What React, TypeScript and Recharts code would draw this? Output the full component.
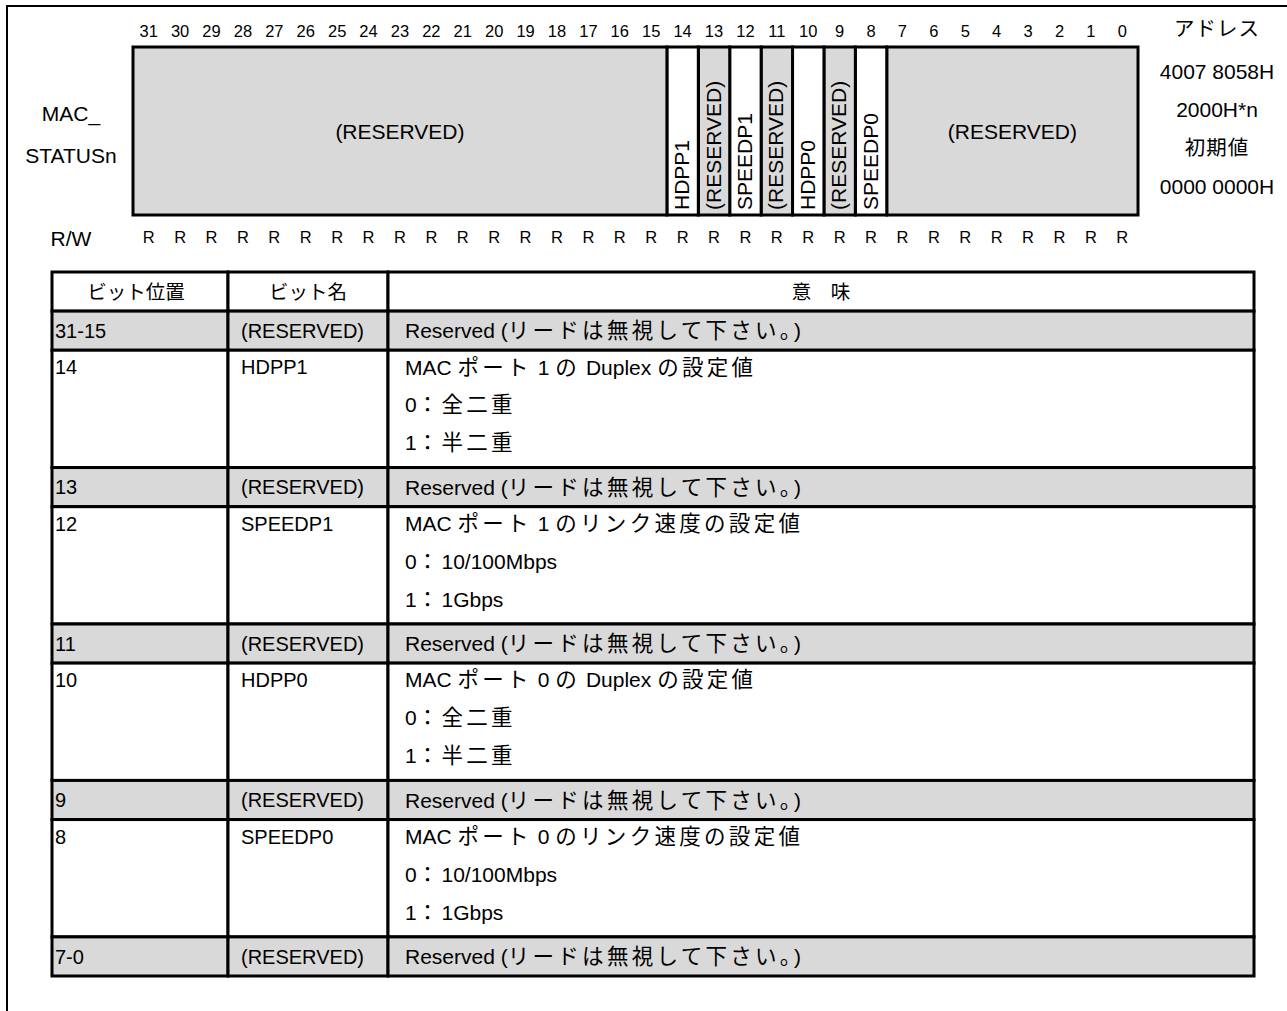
import React from "react";
import {
  BarChart,
  Bar,
  XAxis,
  YAxis,
  Label,
  ComposedChart,
  ReferenceArea,
} from "recharts";

// register fields, from bit 0 upward (this is also the stack order)
const fieldNames = [
  "(RESERVED)",
  "SPEEDP0",
  "(RESERVED)",
  "HDPP0",
  "(RESERVED)",
  "SPEEDP1",
  "(RESERVED)",
  "HDPP1",
  "(RESERVED)",
];
const fieldBits = [8, 1, 1, 1, 1, 1, 1, 1, 17];
const fieldReserved = [true, false, true, false, true, false, true, false, true];

// bit numbers and access type, left to right as printed
const bitLabels = [
  31, 30, 29, 28, 27, 26, 25, 24, 23, 22, 21, 20, 19, 18, 17, 16,
  15, 14, 13, 12, 11, 10, 9, 8, 7, 6, 5, 4, 3, 2, 1, 0,
];
const accessTypes = [
  "R", "R", "R", "R", "R", "R", "R", "R", "R", "R", "R", "R", "R", "R", "R", "R",
  "R", "R", "R", "R", "R", "R", "R", "R", "R", "R", "R", "R", "R", "R", "R", "R",
];

const registerName = ["MAC_", "STATUSn"];
const addressInfo = ["アドレス", "4007 8058H", "2000H*n", "初期値", "0000 0000H"];

// description table
const tableHeaders = ["ビット位置", "ビット名", "意　味"];
const bitPositions = ["31-15", "14", "13", "12", "11", "10", "9", "8", "7-0"];
const bitNames = [
  "(RESERVED)",
  "HDPP1",
  "(RESERVED)",
  "SPEEDP1",
  "(RESERVED)",
  "HDPP0",
  "(RESERVED)",
  "SPEEDP0",
  "(RESERVED)",
];
const meanings = [
  ["Reserved (リードは無視して下さい。)"],
  ["MAC ポート 1 の Duplex の設定値", "0：全二重", "1：半二重"],
  ["Reserved (リードは無視して下さい。)"],
  ["MAC ポート 1 のリンク速度の設定値", "0：10/100Mbps", "1：1Gbps"],
  ["Reserved (リードは無視して下さい。)"],
  ["MAC ポート 0 の Duplex の設定値", "0：全二重", "1：半二重"],
  ["Reserved (リードは無視して下さい。)"],
  ["MAC ポート 0 のリンク速度の設定値", "0：10/100Mbps", "1：1Gbps"],
  ["Reserved (リードは無視して下さい。)"],
];

const LATIN = "'Liberation Sans', Arial, sans-serif";
const CJK = "'Noto Sans CJK JP', sans-serif";
const GREY = "#d9d9d9";

const cjkRe = /([\u3000-\u30ff\u4e00-\u9fff\uff00-\uffef]+)/;

// latin and japanese runs: japanese is spaced out a little, like the original
function mixed(text: string, latin: number, cjk: number, spacing: number) {
  return text
    .split(cjkRe)
    .filter((s) => s.length > 0)
    .map((s, i) =>
      cjkRe.test(s) ? (
        <tspan key={i} fontFamily={CJK} fontSize={cjk} letterSpacing={spacing}>
          {s}
        </tspan>
      ) : (
        <tspan key={i} fontFamily={LATIN} fontSize={latin} letterSpacing={0}>
          {s}
        </tspan>
      )
    );
}

const registerData = [
  fieldBits.reduce(
    (row: Record<string, any>, bits, i) => {
      row["f" + i] = bits;
      row.span += bits;
      return row;
    },
    { name: registerName.join(""), span: 0 }
  ),
];

function FieldShape(props: any) {
  const { x, y, width, height, field } = props;
  const left = Math.min(x, x + width);
  const w = Math.abs(width);
  const top = Math.min(y, y + height);
  const h = Math.abs(height);
  const cx = left + w / 2;
  const label = fieldNames[field];
  const bx = cx + 6.5;
  const by = top + h - 5;
  return (
    <g>
      <rect
        x={left}
        y={top}
        width={w}
        height={h}
        fill={fieldReserved[field] ? GREY : "#fff"}
        stroke="#000"
        strokeWidth={3}
      />
      {fieldBits[field] === 1 ? (
        <text
          x={bx}
          y={by}
          transform={`rotate(-90 ${bx} ${by})`}
          fontFamily={LATIN}
          fontSize={21}
          fill="#000"
        >
          {label}
        </text>
      ) : (
        <text
          x={cx}
          y={top + h / 2 + 7.5}
          textAnchor="middle"
          fontFamily={LATIN}
          fontSize={21}
          fill="#000"
        >
          {label}
        </text>
      )}
    </g>
  );
}

function BitTick(props: any) {
  const { x, y, payload } = props;
  return (
    <text x={x} y={y - 2} textAnchor="middle" fontFamily={LATIN} fontSize={16.5} fill="#000">
      {Math.floor(payload.value)}
    </text>
  );
}

function AccessTick(props: any) {
  const { x, y, payload } = props;
  const idx = bitLabels.indexOf(Math.floor(payload.value));
  return (
    <text x={x} y={y + 20} textAnchor="middle" fontFamily={LATIN} fontSize={16.5} fill="#000">
      {accessTypes[idx]}
    </text>
  );
}

function NameTick(props: any) {
  const { y } = props;
  const offs = [-18, 24];
  return (
    <g>
      {registerName.map((t, i) => (
        <text key={i} x={71} y={y + offs[i] + 7.5} textAnchor="middle" fontFamily={LATIN} fontSize={21} fill="#000">
          {t}
        </text>
      ))}
    </g>
  );
}

function AddressTick(props: any) {
  const { y } = props;
  const offs = [-103, -60, -22, 16, 55];
  return (
    <g>
      {addressInfo.map((t, i) => (
        <text
          key={i}
          x={1217}
          y={y + offs[i] + 8}
          textAnchor="middle"
          fontFamily={LATIN}
          fill="#000"
          style={{ whiteSpace: "pre" }}
        >
          {mixed(t, 21, 20.5, 1)}
        </text>
      ))}
    </g>
  );
}

function RWLabel(props: any) {
  const vb = props.viewBox || {};
  return (
    <text x={vb.x - 62} y={vb.y + 31} textAnchor="middle" fontFamily={LATIN} fontSize={21} fill="#000">
      R/W
    </text>
  );
}

function RegisterDiagram() {
  const ticks = bitLabels.map((b) => b + 0.5);
  return (
    <BarChart
      width={1287}
      height={262}
      layout="vertical"
      data={registerData}
      margin={{ top: 0, right: 0, bottom: 0, left: 0 }}
      barCategoryGap={0}
      barGap={0}
    >
      <XAxis
        xAxisId="bits"
        orientation="top"
        type="number"
        domain={[0, 32]}
        reversed
        ticks={ticks}
        interval={0}
        height={47}
        axisLine={false}
        tickLine={false}
        tick={<BitTick />}
      />
      <XAxis
        xAxisId="rw"
        orientation="bottom"
        type="number"
        dataKey="span"
        domain={[0, 32]}
        allowDataOverflow
        reversed
        ticks={ticks}
        interval={0}
        height={47}
        axisLine={false}
        tickLine={false}
        tick={<AccessTick />}
      >
        <Label content={<RWLabel />} />
      </XAxis>
      <YAxis type="category" dataKey="name" width={133} axisLine={false} tickLine={false} tick={<NameTick />} />
      <YAxis
        yAxisId="right"
        orientation="right"
        type="category"
        dataKey="name"
        width={149}
        axisLine={false}
        tickLine={false}
        tick={<AddressTick />}
      />
      {fieldBits.map((_, i) => (
        <Bar
          key={i}
          dataKey={"f" + i}
          stackId="reg"
          xAxisId="bits"
          isAnimationActive={false}
          shape={(p: any) => <FieldShape {...p} field={i} />}
        />
      ))}
    </BarChart>
  );
}

// column edges of the table, in table units (layout, not data)
const colEdges = [0, 176, 336, 1202];

function TableCell(props: any) {
  const { x, y, width, height, col, lines, rowLines, shaded, header } = props;
  const left = Math.min(x, x + width);
  const w = Math.abs(width);
  const top = Math.min(y, y + height);
  const h = Math.abs(height);
  const unit = h / rowLines;
  const centerOf = (i: number) =>
    rowLines === 1 ? top + h / 2 : top + unit * (0.43 + 0.97 * i);
  let content: React.ReactNode = null;
  if (header) {
    content = (
      <text
        x={left + w / 2 - (col === 0 ? 4 : 0)}
        y={top + h / 2 + 7}
        textAnchor="middle"
        fontFamily={CJK}
        fontSize={19.5}
        fill="#000"
        style={{ whiteSpace: "pre" }}
      >
        {lines[0]}
      </text>
    );
  } else if (col < 2) {
    content = (
      <text x={left + (col === 0 ? 3 : 13)} y={centerOf(0) + 7.2} fontFamily={LATIN} fontSize={20} fill="#000">
        {lines[0]}
      </text>
    );
  } else {
    content = lines.map((t: string, i: number) => (
      <text
        key={i}
        x={left + 17}
        y={centerOf(i) + 7.5}
        fontFamily={LATIN}
        fill="#000"
        style={{ whiteSpace: "pre" }}
      >
        {mixed(t, 21, 21.5, 3.3)}
      </text>
    ));
  }
  return (
    <g>
      <rect x={left} y={top} width={w} height={h} fill={shaded ? GREY : "#fff"} stroke="#000" strokeWidth={3} />
      {content}
    </g>
  );
}

function BitTable() {
  const lineCounts = meanings.map((m) => m.length);
  const totalUnits = 1 + lineCounts.reduce((a, b) => a + b, 0);
  const rowStarts: number[] = [];
  let acc = 1;
  lineCounts.forEach((n) => {
    rowStarts.push(acc);
    acc += n;
  });
  const rows = bitPositions.map((p, i) => ({ pos: p, name: bitNames[i], y: rowStarts[i] }));

  const cells: React.ReactNode[] = [];
  tableHeaders.forEach((hText, c) => {
    cells.push(
      <ReferenceArea
        key={"h" + c}
        x1={colEdges[c]}
        x2={colEdges[c + 1]}
        y1={0}
        y2={1}
        ifOverflow="visible"
        shape={(p: any) => <TableCell {...p} col={c} lines={[hText]} rowLines={1} header />}
      />
    );
  });
  bitPositions.forEach((_, r) => {
    const shaded = bitNames[r] === "(RESERVED)";
    const texts = [[bitPositions[r]], [bitNames[r]], meanings[r]];
    texts.forEach((lines, c) => {
      cells.push(
        <ReferenceArea
          key={r + "-" + c}
          x1={colEdges[c]}
          x2={colEdges[c + 1]}
          y1={rowStarts[r]}
          y2={rowStarts[r] + lineCounts[r]}
          ifOverflow="visible"
          shape={(p: any) => (
            <TableCell {...p} col={c} lines={lines} rowLines={lineCounts[r]} shaded={shaded} />
          )}
        />
      );
    });
  });

  return (
    <ComposedChart
      width={1287}
      height={761}
      data={rows}
      margin={{ top: 22, right: 33, bottom: 35, left: 52 }}
    >
      <XAxis type="number" dataKey="y" domain={[0, colEdges[3]]} allowDataOverflow hide />
      <YAxis type="number" dataKey="y" domain={[0, totalUnits]} allowDataOverflow reversed hide />
      {cells}
    </ComposedChart>
  );
}

export default function App() {
  return (
    <div
      style={{
        position: "absolute",
        left: 0,
        top: 0,
        width: 1287,
        height: 1011,
        overflow: "hidden",
        background: "#fff",
      }}
    >
      <div
        style={{
          position: "absolute",
          left: 6,
          top: 5,
          width: 1400,
          height: 1100,
          borderTop: "2px solid #000",
          borderLeft: "2px solid #000",
        }}
      />
      <div style={{ position: "absolute", left: 0, top: 0 }}>
        <RegisterDiagram />
      </div>
      <div style={{ position: "absolute", left: 0, top: 250 }}>
        <BitTable />
      </div>
    </div>
  );
}
